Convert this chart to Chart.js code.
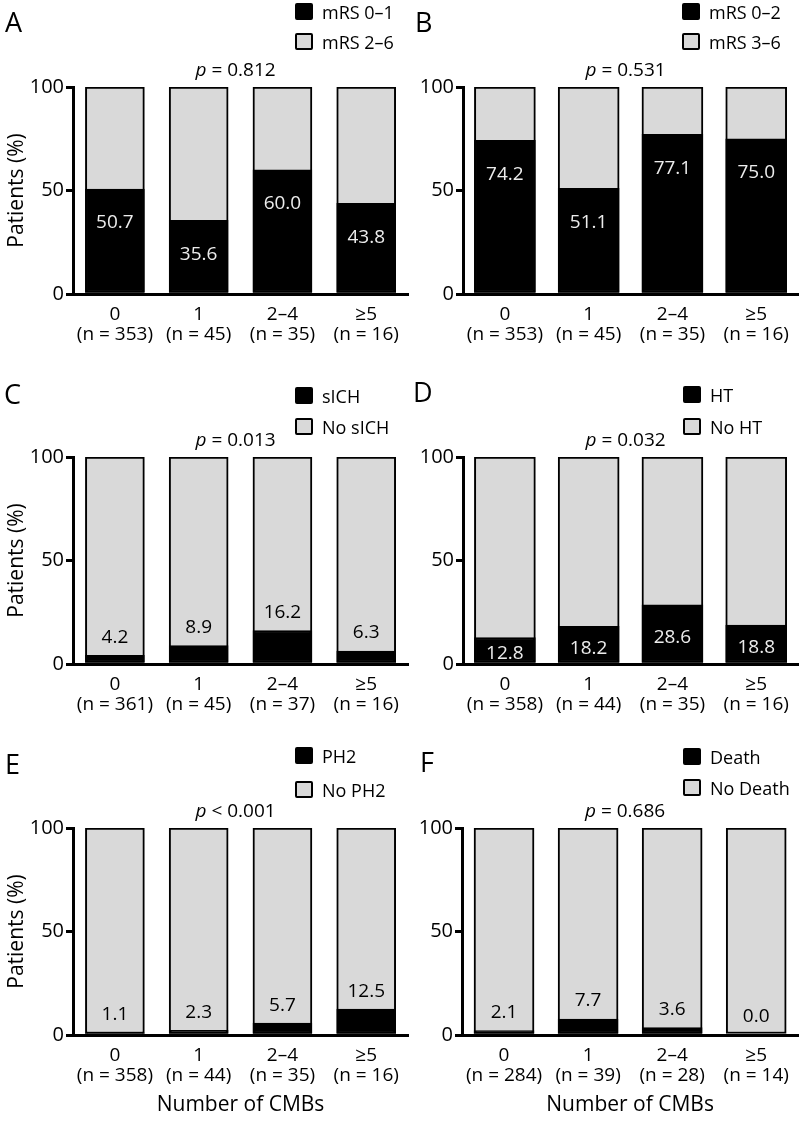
<!DOCTYPE html>
<html lang="en">
<head>
<meta charset="UTF-8">
<title>Outcomes by number of CMBs</title>
<script src="https://cdn.jsdelivr.net/npm/chart.js"></script>
<style>
  body { margin: 0; background: #fff; font-family: "Open Sans", sans-serif; }
  #fig { position: relative; width: 800px; height: 1121px; overflow: hidden; }
  #fig canvas { position: absolute; }
  .letter { position: absolute; font-size: 27px; line-height: 1; color: #000; }
  .item { position: absolute; display: flex; align-items: center; height: 17px; font-size: 18px; white-space: nowrap; }
  .box { width: 14px; height: 13px; border: 2px solid #000; border-radius: 2px; margin-right: 9px; }
</style>
</head>
<body>
<div id="fig"></div>
<script>
// categories
const groups = ['0', '1', '2–4', '≥5'];

// patients per group, for each panel
const nA = [353, 45, 35, 16];
const nB = [353, 45, 35, 16];
const nC = [361, 45, 37, 16];
const nD = [358, 44, 35, 16];
const nE = [358, 44, 35, 16];
const nF = [284, 39, 28, 14];

// percent with the outcome (black part)
const mrs01 = [50.7, 35.6, 60.0, 43.8];
const mrs02 = [74.2, 51.1, 77.1, 75.0];
const sich = [4.2, 8.9, 16.2, 6.3];
const ht = [12.8, 18.2, 28.6, 18.8];
const ph2 = [1.1, 2.3, 5.7, 12.5];
const death = [2.1, 7.7, 3.6, 0.0];

// whole bar (grey part sits behind)
const totals = [100, 100, 100, 100];

const yTicks = [0, 50, 100];

const panels = [
  { letter: 'A', names: ['mRS 0–1', 'mRS 2–6'], values: mrs01, n: nA, p: '= 0.812', inside: true,
    left: 0, top: 0, w: 410, h: 360, yW: 73, xH: 66, bw: 59, yTitle: true, xTitle: false,
    letterPos: [5, 8], legendPos: [295, 3, 33] },
  { letter: 'B', names: ['mRS 0–2', 'mRS 3–6'], values: mrs02, n: nB, p: '= 0.531', inside: true,
    left: 400, top: 0, w: 400, h: 360, yW: 63, xH: 66, bw: 61, yTitle: false, xTitle: false,
    letterPos: [415, 8], legendPos: [682, 3, 33] },
  { letter: 'C', names: ['sICH', 'No sICH'], values: sich, n: nC, p: '= 0.013', inside: false,
    left: 0, top: 370, w: 410, h: 360, yW: 73, xH: 66, bw: 59, yTitle: true, xTitle: false,
    letterPos: [4, 380], legendPos: [295, 387, 418] },
  { letter: 'D', names: ['HT', 'No HT'], values: ht, n: nD, p: '= 0.032', inside: true,
    left: 400, top: 370, w: 400, h: 360, yW: 63, xH: 66, bw: 61, yTitle: false, xTitle: false,
    letterPos: [413, 378], legendPos: [683, 386, 418] },
  { letter: 'E', names: ['PH2', 'No PH2'], values: ph2, n: nE, p: '< 0.001', inside: false,
    left: 0, top: 741, w: 410, h: 380, yW: 73, xH: 86, bw: 59, yTitle: true, xTitle: true,
    letterPos: [5, 750], legendPos: [295, 747, 781] },
  { letter: 'F', names: ['Death', 'No Death'], values: death, n: nF, p: '= 0.686', inside: false,
    left: 400, top: 741, w: 400, h: 380, yW: 62, xH: 86, bw: 60, yTitle: false, xTitle: true,
    letterPos: [420, 748], legendPos: [683, 748, 779] }
];

const FONT = '"Open Sans", sans-serif';

// value labels on the black bars + the p value above the plot
const barLabels = {
  id: 'barLabels',
  afterDatasetsDraw(chart, args, opts) {
    const ctx = chart.ctx;
    const meta = chart.getDatasetMeta(0);
    const vals = chart.data.datasets[0].data;
    ctx.save();
    ctx.font = '19px ' + FONT;
    ctx.textAlign = 'center';
    ctx.textBaseline = 'middle';
    meta.data.forEach((bar, i) => {
      let y;
      if (opts.inside) {
        ctx.fillStyle = '#ececec';
        y = Math.min(bar.y + 34, (bar.y + bar.base) / 2 + 4);
      } else {
        ctx.fillStyle = '#000';
        y = bar.y - 18;
      }
      ctx.fillText(vals[i].toFixed(1), bar.x, y);
    });

    const area = chart.chartArea;
    const cx = (area.left + area.right) / 2 - 5;
    const py = area.top - 16;
    ctx.textAlign = 'left';
    ctx.fillStyle = '#000';
    ctx.font = 'italic 19px ' + FONT;
    const pw = ctx.measureText('p').width;
    ctx.font = '19px ' + FONT;
    const rest = ' ' + opts.p;
    const rw = ctx.measureText(rest).width;
    const x0 = cx - (pw + rw) / 2;
    ctx.font = 'italic 19px ' + FONT;
    ctx.fillText('p', x0, py);
    ctx.font = '19px ' + FONT;
    ctx.fillText(rest, x0 + pw, py);
    ctx.restore();
  }
};

const fig = document.getElementById('fig');

panels.forEach(pn => {
  const canvas = document.createElement('canvas');
  canvas.width = pn.w;
  canvas.height = pn.h;
  canvas.style.left = pn.left + 'px';
  canvas.style.top = pn.top + 'px';
  fig.appendChild(canvas);

  const letter = document.createElement('div');
  letter.className = 'letter';
  letter.textContent = pn.letter;
  letter.style.left = pn.letterPos[0] + 'px';
  letter.style.top = pn.letterPos[1] + 'px';
  fig.appendChild(letter);

  pn.names.forEach((name, k) => {
    const item = document.createElement('div');
    item.className = 'item';
    item.style.left = pn.legendPos[0] + 'px';
    item.style.top = pn.legendPos[k + 1] + 'px';
    const box = document.createElement('span');
    box.className = 'box';
    box.style.background = k === 0 ? '#000' : '#d9d9d9';
    item.appendChild(box);
    item.appendChild(document.createTextNode(name));
    fig.appendChild(item);
  });

  new Chart(canvas, {
    type: 'bar',
    data: {
      labels: groups.map((g, i) => [g, '(n = ' + pn.n[i] + ')']),
      datasets: [
        { label: pn.names[0], data: pn.values, backgroundColor: '#000', borderColor: '#000',
          borderWidth: 2, borderSkipped: false, barThickness: pn.bw, grouped: false },
        { label: pn.names[1], data: totals, backgroundColor: '#d9d9d9', borderColor: '#000',
          borderWidth: 2, borderSkipped: false, barThickness: pn.bw, grouped: false }
      ]
    },
    options: {
      responsive: false,
      animation: false,
      layout: { padding: { top: 87, right: 1, left: 0, bottom: 0 } },
      plugins: {
        legend: { display: false },
        tooltip: { enabled: false },
        barLabels: { inside: pn.inside, p: pn.p }
      },
      scales: {
        x: {
          grid: { display: false, drawTicks: false },
          border: { display: true, color: '#000', width: 3 },
          ticks: { color: '#000', font: { family: FONT, size: 19, lineHeight: 1.05 }, padding: 11, maxRotation: 0, autoSkip: false },
          title: { display: pn.xTitle, text: 'Number of CMBs', color: '#000',
                   font: { family: FONT, size: 21 }, padding: { top: 0, bottom: 3 } },
          afterFit: s => { s.height = pn.xH; }
        },
        y: {
          min: 0,
          max: 100,
          afterBuildTicks: s => { s.ticks = yTicks.map(v => ({ value: v })); },
          grid: { drawOnChartArea: false, drawTicks: true, tickLength: 7, color: '#000', lineWidth: 3 },
          border: { display: true, color: '#000', width: 3 },
          ticks: { color: '#000', font: { family: FONT, size: 20 }, padding: 2 },
          title: { display: pn.yTitle, text: 'Patients (%)', color: '#000',
                   font: { family: FONT, size: 21 }, padding: { top: 4, bottom: 0 } },
          afterFit: s => { s.width = pn.yW; }
        }
      }
    },
    plugins: [barLabels]
  });
});
</script>
</body>
</html>
